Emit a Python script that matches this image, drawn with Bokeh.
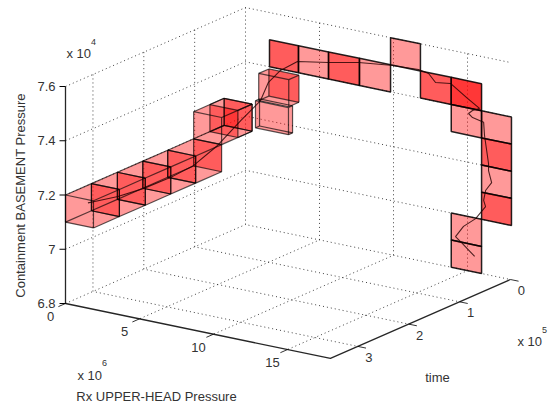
from bokeh.plotting import figure
from bokeh.models import Range1d
from bokeh.embed import file_html
from bokeh.resources import INLINE
from bokeh.core.properties import value

X_MAX = 17.9
T_MAX = 3.54
Z_MIN = 6.8
Z_MAX = 7.6
x_ticks = [0, 5, 10, 15]
t_ticks = [0, 1, 2, 3]
z_ticks = [6.8, 7.0, 7.2, 7.4, 7.6]
z_labels = ["6.8", "7", "7.2", "7.4", "7.6"]

# solid boxes
box_x0 = [0, 0, 0, 0, 0, 0, 0, 1.12, 1.82]
box_x1 = [1.89, 1.89, 1.89, 1.89, 1.89, 1.89, 1.89, 3.35, 3.85]
box_t0 = [3.03, 2.52, 2.02, 1.53, 1.02, 0.42, 0.42, 0.05, 0.07]
box_t1 = [3.54, 3.03, 2.52, 2.02, 1.53, 1.02, 0.70, 0.13, 0.27]
box_z0 = [7.1, 7.1, 7.1, 7.1, 7.1, 7.2, 7.2, 7.18, 7.3]
box_z1 = [7.2, 7.2, 7.2, 7.2, 7.2, 7.3, 7.3, 7.28, 7.4]
box_sides = ["fbrt", "brt", "brt", "brt", "brt", "fbrt", "f", "fr", "fbrt"]

# flat cells on the t = 0 plane
cell_x0 = [1.62, 3.58, 5.61, 7.70, 9.80, 11.82, 13.90, 13.90, 15.95, 15.95, 15.95, 15.95, 13.90, 13.90]
cell_x1 = [3.58, 5.61, 7.70, 9.80, 11.82, 13.90, 15.95, 15.95, 17.97, 17.97, 17.97, 17.97, 15.95, 15.95]
cell_z0 = [7.4, 7.4, 7.4, 7.4, 7.5, 7.4, 7.4, 7.3, 7.3, 7.2, 7.1, 7.0, 6.9, 6.8]
cell_n = [2, 1, 2, 1, 1, 2, 3, 1, 1, 2, 1, 2, 1, 1]

# trajectory
curve_x = [1, 1, 1, 1, 1, 1, 1, 1, 1,
           1.55, 2.36, 3.51, 5.61, 7.64, 9.8, 11.69, 12.37, 12.84, 13.85, 15.0, 15.81,
           15.34, 15.07, 15.34, 16.09, 16.15, 16.42, 16.42, 16.63, 16.22, 16.09, 16.22,
           15.55, 14.73, 14.19, 14.66, 15.48]
curve_t = [3.39, 3.28, 2.80, 2.29, 1.76, 1.31, 0.84, 0.385, 0] + [0] * 28
curve_z = [7.17, 7.165, 7.145, 7.133, 7.13, 7.137, 7.172, 7.226, 7.267,
           7.342, 7.395, 7.441, 7.461, 7.484, 7.498, 7.504, 7.497, 7.469, 7.477, 7.435, 7.407,
           7.394, 7.38, 7.368, 7.359, 7.311, 7.211, 7.185, 7.143, 7.109, 7.071, 7.05,
           6.998, 6.96, 6.916, 6.896, 6.858]


def sx(x, t, z):
    return 65 + 14.8 * x + 50.85 * (T_MAX - t)


def sy(x, t, z):
    return 303 + 3.07 * x - 22.3 * (T_MAX - t) - 271.25 * (z - Z_MIN)


def proj(points):
    return [sx(*q) for q in points], [sy(*q) for q in points]


p = figure(width=550, height=406, x_range=Range1d(0, 550), y_range=Range1d(406, 0),
           output_backend="svg", toolbar_location=None, min_border=0,
           outline_line_color=None, background_fill_color="white", border_fill_color="white")
p.axis.visible = False
p.grid.visible = False

# dotted grid
grid = []
for z in z_ticks[1:]:
    grid.append([(0, T_MAX, z), (0, 0, z), (X_MAX, 0, z)])
for t in t_ticks[1:]:
    grid.append([(0, t, Z_MAX), (0, t, Z_MIN), (X_MAX, t, Z_MIN)])
for x in x_ticks[1:]:
    grid.append([(x, 0, Z_MAX), (x, 0, Z_MIN), (x, T_MAX, Z_MIN)])
grid.append([(0, 0, Z_MAX), (0, 0, Z_MIN), (X_MAX, 0, Z_MIN)])
grid.append([(0, T_MAX, Z_MIN), (0, 0, Z_MIN)])
gx, gy = zip(*[proj(g) for g in grid])
p.multi_line(list(gx), list(gy), line_color="#222222", line_width=1, line_dash="1 3", line_alpha=0.85)

RED = "#ff0000"
A = 0.4
faces, edges = [], []
n = len(box_x0)
for i in range(n):
    x0, x1, t0, t1, z0, z1 = box_x0[i], box_x1[i], box_t0[i], box_t1[i], box_z0[i], box_z1[i]
    s = box_sides[i]
    if "b" in s:
        faces.append([(x0, t0, z0), (x1, t0, z0), (x1, t0, z1), (x0, t0, z1)])
    if "r" in s:
        faces.append([(x1, t0, z0), (x1, t1, z0), (x1, t1, z1), (x1, t0, z1)])
    if "t" in s:
        faces.append([(x0, t0, z1), (x1, t0, z1), (x1, t1, z1), (x0, t1, z1)])
    if "f" in s:
        faces.append([(x0, t1, z0), (x1, t1, z0), (x1, t1, z1), (x0, t1, z1)])
    c = [(x0, t0, z0), (x1, t0, z0), (x1, t1, z0), (x0, t1, z0)]
    d = [(a, b, z1) for a, b, _ in c]
    for k in range(4):
        edges.append([c[k], c[(k + 1) % 4]])
        edges.append([d[k], d[(k + 1) % 4]])
        edges.append([c[k], d[k]])
fx, fy = zip(*[proj(f) for f in faces])
p.patches(list(fx), list(fy), fill_color=RED, fill_alpha=A, line_color=None)
ex, ey = zip(*[proj(e) for e in edges])
p.multi_line(list(ex), list(ey), line_color="black", line_width=1.2, line_alpha=0.65)

# flat cells
for x0, x1, z0, k in zip(cell_x0, cell_x1, cell_z0, cell_n):
    z1 = round(z0 + 0.1, 1)
    cx, cy = proj([(x0, 0, z0), (x1, 0, z0), (x1, 0, z1), (x0, 0, z1)])
    for _ in range(k):
        p.patch(cx, cy, fill_color=RED, fill_alpha=A, line_color=None)
    p.patch(cx, cy, fill_alpha=0, line_color="black", line_width=1.5, line_alpha=0.85)

# trajectory
cx, cy = proj(list(zip(curve_x, curve_t, curve_z)))
p.line(cx, cy, line_color="#200000", line_width=1.1, line_alpha=0.8)

# axes
lx, ly = proj([(0, T_MAX, Z_MAX), (0, T_MAX, Z_MIN), (X_MAX, T_MAX, Z_MIN), (X_MAX, 0, Z_MIN)])
p.line(lx, ly, line_color="black", line_width=1.3, line_alpha=0.85)
ticks = []
for x in x_ticks:
    ticks.append([(x, T_MAX, Z_MIN), (x, T_MAX + 0.14, Z_MIN)])
for t in t_ticks:
    ticks.append([(X_MAX, t, Z_MIN), (X_MAX + 0.55, t, Z_MIN)])
tx, ty = zip(*[proj(g) for g in ticks])
p.multi_line(list(tx), list(ty), line_color="black", line_width=1, line_alpha=0.8)
zx = [sx(0, T_MAX, z) for z in z_ticks]
zy = [sy(0, T_MAX, z) for z in z_ticks]
p.segment([v - 6 for v in zx], zy, zx, zy, line_color="black", line_width=1)

FONT = value("Liberation Sans")
COL = "#333333"


def label(xs, ys, texts, size="13px", align="center", angle=0.0):
    p.text(xs, ys, text=texts, text_font=FONT, text_font_size=size, text_color=COL,
           text_align=align, text_baseline="middle", angle=angle)


label([v - 10 for v in zx], zy, z_labels, align="right")
label([sx(x, T_MAX, Z_MIN) - 15 for x in x_ticks], [sy(x, T_MAX, Z_MIN) + 13 for x in x_ticks], [str(v) for v in x_ticks])
label([sx(X_MAX, t, Z_MIN) + 11 for t in t_ticks], [sy(X_MAX, t, Z_MIN) + 11 for t in t_ticks], [str(v) for v in t_ticks])
label([66, 77, 517], [53, 375, 341], ["x 10"] * 3, align="left")
label([93, 104, 544], [41, 362, 329], ["4", "6", "5"], size="9px")
label([20], [195], ["Containment BASEMENT Pressure"], angle=1.5708)
label([156], [396], ["Rx UPPER-HEAD Pressure"])
label([437], [377], ["time"])

open("out.html", "w").write(file_html(p, INLINE))
